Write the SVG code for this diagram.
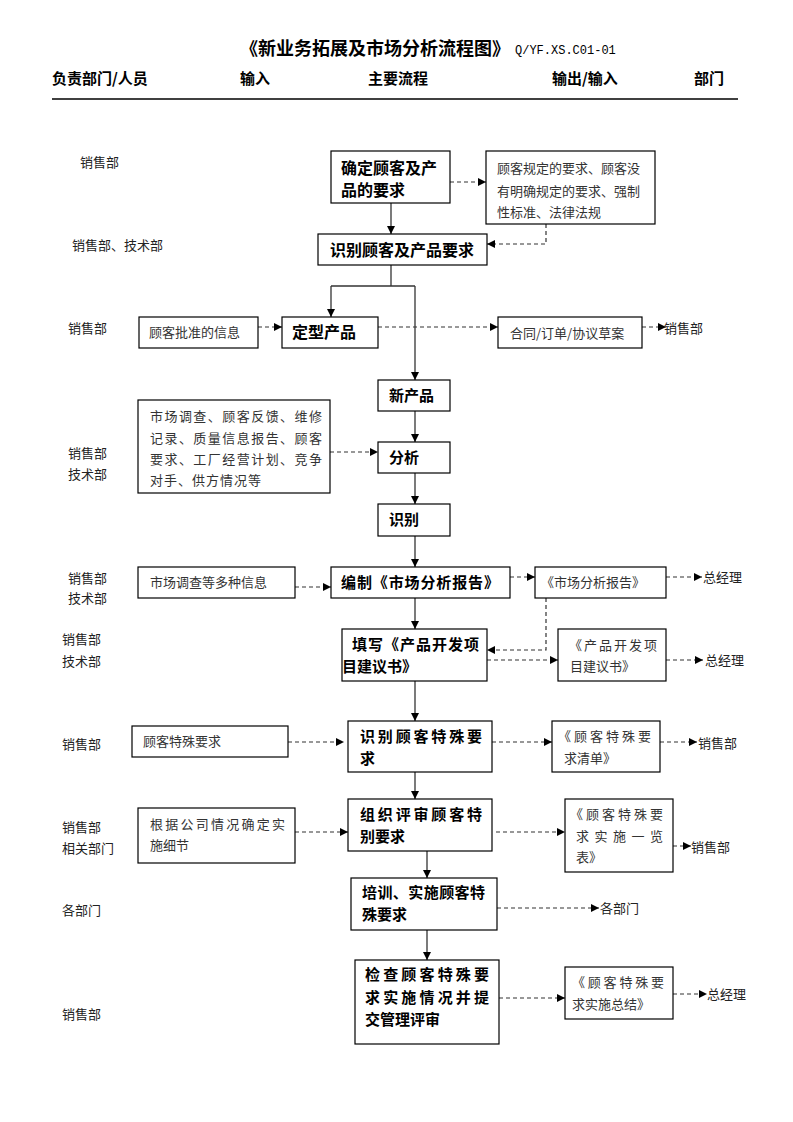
<svg xmlns="http://www.w3.org/2000/svg" width="793" height="1122" viewBox="0 0 793 1122">
<defs>
<marker id="ah" markerUnits="userSpaceOnUse" markerWidth="9" markerHeight="9" refX="8" refY="4" orient="auto"><path d="M0,0 L8,4 L0,8 z" fill="#000"/></marker>
<style>
.bx{fill:#fff;stroke:#000;stroke-width:1.2}
.t{font-family:"Noto Sans CJK SC","Liberation Serif",serif;font-size:13px;fill:#333}
.lb{font-family:"Noto Sans CJK SC","Liberation Serif",serif;font-size:13px;fill:#222}
.b{font-family:"Noto Sans CJK SC","Liberation Sans",sans-serif;font-size:15px;font-weight:bold;fill:#000}
.h{font-family:"Noto Sans CJK SC","Liberation Sans",sans-serif;font-size:15px;font-weight:bold;fill:#000}
.sl{fill:none;stroke:#333;stroke-width:1.3}
.dl{fill:none;stroke:#333;stroke-width:1.2;stroke-dasharray:4,3}
</style>
</defs>
<rect width="793" height="1122" fill="#fff"/>
<g id="header">
<text x="240" y="55" class="h" style="font-size:18px">《新业务拓展及市场分析流程图》</text>
<text x="515" y="54" style="font-family:'Liberation Mono',monospace;font-size:12px;fill:#000">Q/YF.XS.C01-01</text>
<text x="52" y="84" class="h">负责部门/人员</text>
<text x="240" y="84" class="h">输入</text>
<text x="368" y="84" class="h">主要流程</text>
<text x="552" y="84" class="h">输出/输入</text>
<text x="694" y="84" class="h">部门</text>
<line x1="52" y1="99" x2="738" y2="99" stroke="#000" stroke-width="1.3"/>
</g>
<g id="labels">
<text x="80" y="167" class="lb">销售部</text>
<text x="72" y="250" class="lb">销售部、技术部</text>
<text x="68" y="333" class="lb">销售部</text>
<text x="68" y="458" class="lb">销售部</text>
<text x="68" y="479" class="lb">技术部</text>
<text x="68" y="583" class="lb">销售部</text>
<text x="68" y="603" class="lb">技术部</text>
<text x="62" y="644" class="lb">销售部</text>
<text x="62" y="666" class="lb">技术部</text>
<text x="62" y="749" class="lb">销售部</text>
<text x="62" y="832" class="lb">销售部</text>
<text x="62" y="853" class="lb">相关部门</text>
<text x="62" y="915" class="lb">各部门</text>
<text x="62" y="1019" class="lb">销售部</text>
</g>
<g id="connectors">
<line x1="391" y1="203" x2="391" y2="234" class="sl" marker-end="url(#ah)"/>
<line x1="450" y1="182" x2="486" y2="182" class="dl" marker-end="url(#ah)"/>
<polyline points="546,224 546,244 487,244" class="dl" marker-end="url(#ah)"/>
<line x1="391" y1="265" x2="391" y2="286" class="sl"/>
<line x1="331" y1="286" x2="415" y2="286" class="sl"/>
<line x1="331" y1="286" x2="331" y2="317" class="sl" marker-end="url(#ah)"/>
<line x1="415" y1="286" x2="415" y2="380" class="sl" marker-end="url(#ah)"/>
<line x1="258" y1="327" x2="282" y2="327" class="dl" marker-end="url(#ah)"/>
<line x1="378" y1="327" x2="498" y2="327" class="dl" marker-end="url(#ah)"/>
<line x1="642" y1="327" x2="666" y2="327" class="dl" marker-end="url(#ah)"/>
<line x1="415" y1="411" x2="415" y2="442" class="sl" marker-end="url(#ah)"/>
<line x1="330" y1="452" x2="378" y2="452" class="dl" marker-end="url(#ah)"/>
<line x1="415" y1="473" x2="415" y2="504" class="sl" marker-end="url(#ah)"/>
<line x1="415" y1="536" x2="415" y2="567" class="sl" marker-end="url(#ah)"/>
<line x1="295" y1="587" x2="331" y2="587" class="dl" marker-end="url(#ah)"/>
<line x1="510" y1="577" x2="535" y2="577" class="dl" marker-end="url(#ah)"/>
<line x1="666" y1="577" x2="702" y2="577" class="dl" marker-end="url(#ah)"/>
<polyline points="546,598 546,650 487,650" class="dl" marker-end="url(#ah)"/>
<line x1="415" y1="598" x2="415" y2="629" class="sl" marker-end="url(#ah)"/>
<line x1="487" y1="660" x2="558" y2="660" class="dl" marker-end="url(#ah)"/>
<line x1="666" y1="660" x2="703" y2="660" class="dl" marker-end="url(#ah)"/>
<line x1="415" y1="681" x2="415" y2="721" class="sl" marker-end="url(#ah)"/>
<line x1="288" y1="742" x2="344" y2="742" class="dl" marker-end="url(#ah)"/>
<line x1="492" y1="742" x2="552" y2="742" class="dl" marker-end="url(#ah)"/>
<line x1="660" y1="742" x2="697" y2="742" class="dl" marker-end="url(#ah)"/>
<line x1="415" y1="772" x2="415" y2="799" class="sl" marker-end="url(#ah)"/>
<line x1="295" y1="832" x2="348" y2="832" class="dl" marker-end="url(#ah)"/>
<line x1="496" y1="832" x2="565" y2="832" class="dl" marker-end="url(#ah)"/>
<line x1="673" y1="846" x2="691" y2="846" class="dl" marker-end="url(#ah)"/>
<line x1="427" y1="851" x2="427" y2="878" class="sl" marker-end="url(#ah)"/>
<line x1="497" y1="908" x2="599" y2="908" class="dl" marker-end="url(#ah)"/>
<line x1="427" y1="930" x2="427" y2="960" class="sl" marker-end="url(#ah)"/>
<line x1="499" y1="998" x2="565" y2="998" class="dl" marker-end="url(#ah)"/>
<line x1="673" y1="994" x2="707" y2="994" class="dl" marker-end="url(#ah)"/>
</g>
<g id="n1"><rect x="331" y="151" width="119" height="52" class="bx"/><text x="341" y="174" class="b" style="font-size:16px">确定顾客及产</text><text x="341" y="196" class="b" style="font-size:16px">品的要求</text></g>
<g id="n2"><rect x="486" y="151" width="169" height="73" class="bx"/><text x="497" y="173" class="t">顾客规定的要求、顾客没</text><text x="497" y="196" class="t">有明确规定的要求、强制</text><text x="497" y="217" class="t">性标准、法律法规</text></g>
<g id="n3"><rect x="318" y="234" width="169" height="31" class="bx"/><text x="330" y="256" class="b" style="font-size:16px">识别顾客及产品要求</text></g>
<g id="n4"><rect x="139" y="317" width="119" height="31" class="bx"/><text x="149" y="337" class="t">顾客批准的信息</text></g>
<g id="n5"><rect x="282" y="317" width="96" height="31" class="bx"/><text x="292" y="338" class="b" style="font-size:16px">定型产品</text></g>
<g id="n6"><rect x="498" y="317" width="144" height="31" class="bx"/><text x="510" y="338" class="t">合同/订单/协议草案</text></g>
<text x="664" y="333" class="lb">销售部</text>
<g id="n7"><rect x="378" y="380" width="72" height="31" class="bx"/><text x="389" y="401" class="b">新产品</text></g>
<g id="n8"><rect x="138" y="400" width="192" height="93" class="bx"/>
<text x="150" y="421" class="t" textLength="172" lengthAdjust="spacing">市场调查、顾客反馈、维修</text>
<text x="150" y="443" class="t" textLength="172" lengthAdjust="spacing">记录、质量信息报告、顾客</text>
<text x="150" y="464" class="t" textLength="172" lengthAdjust="spacing">要求、工厂经营计划、竞争</text>
<text x="150" y="485" class="t" textLength="111" lengthAdjust="spacing">对手、供方情况等</text></g>
<g id="n9"><rect x="378" y="442" width="72" height="31" class="bx"/><text x="389" y="463" class="b">分析</text></g>
<g id="n10"><rect x="378" y="504" width="72" height="32" class="bx"/><text x="389" y="525" class="b">识别</text></g>
<g id="n11"><rect x="138" y="567" width="157" height="31" class="bx"/><text x="150" y="587" class="t">市场调查等多种信息</text></g>
<g id="n12"><rect x="331" y="567" width="179" height="31" class="bx"/><text x="341" y="588" class="b" textLength="158" lengthAdjust="spacing">编制《市场分析报告》</text></g>
<g id="n13"><rect x="535" y="567" width="131" height="31" class="bx"/><text x="541" y="587" class="t">《市场分析报告》</text></g>
<text x="703" y="582" class="lb">总经理</text>
<g id="n14"><rect x="342" y="629" width="145" height="52" class="bx"/><text x="352" y="650" class="b" textLength="127" lengthAdjust="spacing">填写《产品开发项</text><text x="342" y="672" class="b">目建议书》</text></g>
<g id="n15"><rect x="558" y="629" width="108" height="52" class="bx"/><text x="569" y="650" class="t" textLength="88" lengthAdjust="spacing">《产品开发项</text><text x="570" y="671" class="t">目建议书》</text></g>
<text x="705" y="665" class="lb">总经理</text>
<g id="n16"><rect x="132" y="726" width="156" height="31" class="bx"/><text x="143" y="746" class="t">顾客特殊要求</text></g>
<g id="n17"><rect x="348" y="721" width="144" height="51" class="bx"/><text x="360" y="742" class="b" textLength="122" lengthAdjust="spacing">识别顾客特殊要</text><text x="360" y="764" class="b">求</text></g>
<g id="n18"><rect x="552" y="721" width="108" height="51" class="bx"/><text x="558" y="741" class="t" textLength="93" lengthAdjust="spacing">《顾客特殊要</text><text x="564" y="763" class="t">求清单》</text></g>
<text x="698" y="748" class="lb">销售部</text>
<g id="n19"><rect x="138" y="808" width="157" height="55" class="bx"/><text x="150" y="829" class="t" textLength="135" lengthAdjust="spacing">根据公司情况确定实</text><text x="150" y="850" class="t">施细节</text></g>
<g id="n20"><rect x="348" y="799" width="144" height="52" class="bx"/><text x="360" y="820" class="b" textLength="122" lengthAdjust="spacing">组织评审顾客特</text><text x="360" y="842" class="b">别要求</text></g>
<g id="n21"><rect x="565" y="799" width="108" height="73" class="bx"/><text x="570" y="819" class="t" textLength="93" lengthAdjust="spacing">《顾客特殊要</text><text x="576" y="841" class="t" textLength="87" lengthAdjust="spacing">求实施一览</text><text x="576" y="862" class="t">表》</text></g>
<text x="691" y="852" class="lb">销售部</text>
<g id="n22"><rect x="351" y="878" width="146" height="52" class="bx"/><text x="362" y="898" class="b" textLength="123" lengthAdjust="spacing">培训、实施顾客特</text><text x="362" y="920" class="b">殊要求</text></g>
<text x="600" y="913" class="lb">各部门</text>
<g id="n23"><rect x="355" y="960" width="144" height="84" class="bx"/><text x="365" y="980" class="b" textLength="124" lengthAdjust="spacing">检查顾客特殊要</text><text x="365" y="1003" class="b" textLength="124" lengthAdjust="spacing">求实施情况并提</text><text x="365" y="1025" class="b">交管理评审</text></g>
<g id="n24"><rect x="565" y="967" width="108" height="52" class="bx"/><text x="572" y="987" class="t" textLength="92" lengthAdjust="spacing">《顾客特殊要</text><text x="572" y="1009" class="t">求实施总结》</text></g>
<text x="707" y="999" class="lb">总经理</text>
</svg>
